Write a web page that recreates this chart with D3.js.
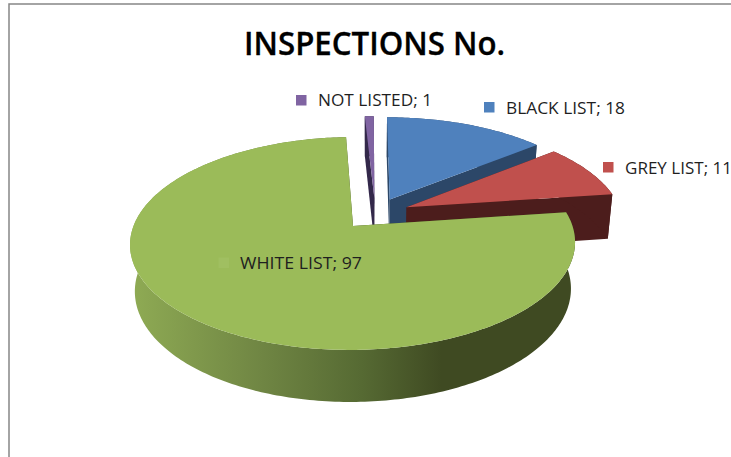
<!DOCTYPE html>
<html><head><meta charset="utf-8">
<script src="https://cdn.jsdelivr.net/npm/d3@7"></script>
<style>html,body{margin:0;padding:0;background:#fff;overflow:hidden}svg{display:block}</style>
</head><body><div id="chart"></div>
<script>
const title = "INSPECTIONS No.";
const categories = ["BLACK LIST", "GREY LIST", "WHITE LIST", "NOT LISTED"];
const values = [18, 11, 97, 1];
const topColors = ["#4f81bd", "#c0504d", "#9bbb59", "#8064a2"];
const sideColors = ["#2c4768", "#4c1d1c", "#3f4a22", "#33284a"];
const labelAnchors = [[506, 114], [625, 174], [240, 269], [318, 106]];
const swatchAnchors = [[484, 102], [603, 162], [218.5, 257.5], [296, 95]];
const labelWidths = [119, 107, 122, 114];

const W = 731, H = 457;
const svg = d3.select("#chart").append("svg").attr("width", W).attr("height", H);
const defs = svg.append("defs");
const grad = defs.append("linearGradient").attr("id", "wall")
  .attr("gradientUnits", "userSpaceOnUse")
  .attr("x1", 130).attr("x2", 575).attr("y1", 0).attr("y2", 0);
[[0, "#8fab54"], [0.3, "#6f8543"], [0.52, "#566a33"], [0.70, "#3f4a22"], [1, "#3f4a22"]]
  .forEach(([o, c]) => grad.append("stop").attr("offset", o).attr("stop-color", c));

// frame
svg.append("rect").attr("x", 9).attr("y", 4).attr("width", 900).attr("height", 600)
  .attr("fill", "#fff").attr("stroke", "#868686").attr("stroke-width", 1.5);

// ground-plane perspective
const vanishX = 370;
const xs = d3.scaleLinear().domain([0, 1]).range([353 - vanishX, 353 - vanishX + 219.5]);
const ys = d3.scaleLinear().domain([0, 1]).range([226, 122.4]);
const persp = 0.164, convergence = 0.02, depth = 47;
const project = (u, v, h) => {
  const w = 1 + persp * v + convergence * h;
  return [vanishX + xs(u) / w, ys(v / w) + depth * h / w];
};

const arcs = d3.pie().sort(null).startAngle(0).endAngle(2 * Math.PI)(values);
const explode = 0.16;
// plane origin is the white slice's apex; the pie's true centre sits here
const whiteMid = (arcs[2].startAngle + arcs[2].endAngle) / 2;
const cu = -explode * Math.sin(whiteMid), cv = -explode * Math.cos(whiteMid);

const line = d3.line();
const slices = arcs.map((a, i) => {
  const mid = (a.startAngle + a.endAngle) / 2;
  const ou = cu + explode * Math.sin(mid), ov = cv + explode * Math.cos(mid);
  const n = Math.max(4, Math.ceil((a.endAngle - a.startAngle) * 60));
  const angles = d3.range(n + 1).map(k => a.startAngle + (a.endAngle - a.startAngle) * k / n);
  const rim = angles.map(t => [ou + Math.sin(t), ov + Math.cos(t)]);
  return { i, apex: [ou, ov], rim };
});

const g = svg.append("g");
const drawOrder = [3, 0, 1, 2];
drawOrder.forEach(i => {
  const s = slices[i];
  const side = sideColors[i];
  const first = s.rim[0], last = s.rim[s.rim.length - 1];
  const face = p => line([project(...s.apex, 0), project(...p, 0), project(...p, 1), project(...s.apex, 1)]) + "Z";
  g.append("path").attr("d", face(first)).attr("fill", side);
  g.append("path").attr("d", face(last)).attr("fill", side);
  const wall = s.rim.map(p => project(...p, 0)).concat(s.rim.slice().reverse().map(p => project(...p, 1)));
  g.append("path").attr("d", line(wall) + "Z").attr("fill", i === 2 ? "url(#wall)" : side);
  const top = [project(...s.apex, 0)].concat(s.rim.map(p => project(...p, 0)));
  g.append("path").attr("d", line(top) + "Z").attr("fill", topColors[i]);
});

// title
svg.append("text").attr("x", 244).attr("y", 55).text(title)
  .attr("font-family", "'Open Sans', sans-serif").attr("font-weight", 600)
  .attr("font-size", 32).attr("fill", "#000").attr("stroke", "#000").attr("stroke-width", 0.3)
  .attr("textLength", 261).attr("lengthAdjust", "spacingAndGlyphs");

// data labels with legend keys
categories.forEach((c, i) => {
  const [sx, sy] = swatchAnchors[i];
  svg.append("rect").attr("x", sx).attr("y", sy).attr("width", 10.5).attr("height", 10.5)
    .attr("fill", i === 2 ? "#a0bf61" : topColors[i]);
  const [lx, ly] = labelAnchors[i];
  svg.append("text").attr("x", lx).attr("y", ly).text(`${c}; ${values[i]}`)
    .attr("font-family", "'Open Sans', sans-serif").attr("font-size", 17)
    .attr("fill", "#1f1f1f")
    .attr("textLength", labelWidths[i]).attr("lengthAdjust", "spacingAndGlyphs");
});
</script></body></html>
